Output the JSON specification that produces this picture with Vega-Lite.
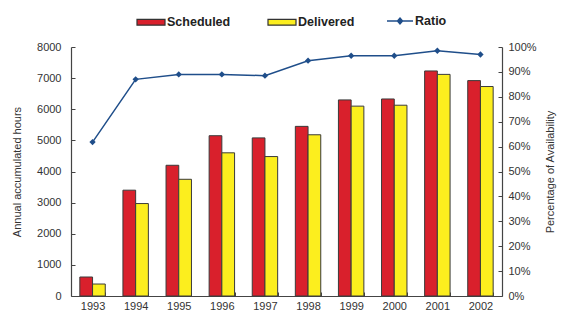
{
  "$schema": "https://vega.github.io/schema/vega-lite/v6.json",
  "autosize": "none",
  "width": 431,
  "height": 249,
  "padding": {"left": 71, "top": 47, "right": 61, "bottom": 19},
  "background": "white",
  "config": {
    "font": "Liberation Sans",
    "view": {"stroke": null},
    "axis": {"labelFont": "Liberation Sans", "titleFont": "Liberation Sans", "labelFontSize": 11, "titleFontSize": 11, "titleFontWeight": "normal", "labelColor": "#333", "titleColor": "#333", "domainColor": "#444", "tickColor": "#444", "grid": false},
    "legend": {"labelFont": "Liberation Sans", "labelFontWeight": "bold", "labelFontSize": 12.5, "labelColor": "#222", "symbolSize": 784, "labelOffset": 1, "columnPadding": 34}
  },
  "datasets": {
    "bars": [
      {"year": "1993", "series": "Scheduled", "hours": 610},
      {"year": "1993", "series": "Delivered", "hours": 385},
      {"year": "1994", "series": "Scheduled", "hours": 3400},
      {"year": "1994", "series": "Delivered", "hours": 2970},
      {"year": "1995", "series": "Scheduled", "hours": 4200},
      {"year": "1995", "series": "Delivered", "hours": 3750},
      {"year": "1996", "series": "Scheduled", "hours": 5150},
      {"year": "1996", "series": "Delivered", "hours": 4600},
      {"year": "1997", "series": "Scheduled", "hours": 5080},
      {"year": "1997", "series": "Delivered", "hours": 4480},
      {"year": "1998", "series": "Scheduled", "hours": 5450},
      {"year": "1998", "series": "Delivered", "hours": 5180},
      {"year": "1999", "series": "Scheduled", "hours": 6300},
      {"year": "1999", "series": "Delivered", "hours": 6100},
      {"year": "2000", "series": "Scheduled", "hours": 6330},
      {"year": "2000", "series": "Delivered", "hours": 6130},
      {"year": "2001", "series": "Scheduled", "hours": 7230},
      {"year": "2001", "series": "Delivered", "hours": 7120},
      {"year": "2002", "series": "Scheduled", "hours": 6920},
      {"year": "2002", "series": "Delivered", "hours": 6730}
    ],
    "ratio": [
      {"year": "1993", "ratio": 0.618},
      {"year": "1994", "ratio": 0.87},
      {"year": "1995", "ratio": 0.89},
      {"year": "1996", "ratio": 0.89},
      {"year": "1997", "ratio": 0.885},
      {"year": "1998", "ratio": 0.945},
      {"year": "1999", "ratio": 0.965},
      {"year": "2000", "ratio": 0.965},
      {"year": "2001", "ratio": 0.985},
      {"year": "2002", "ratio": 0.97}
    ]
  },
  "layer": [
    {
      "data": {"name": "bars"},
      "mark": {"type": "bar", "stroke": "#3a3a3a", "strokeWidth": 1},
      "encoding": {
        "x": {"field": "year", "type": "ordinal", "scale": {"paddingInner": 0.41, "paddingOuter": 0.205},
              "axis": {"title": null, "labelAngle": 0, "tickBand": "extent", "tickSize": -4, "labelPadding": 8, "domainWidth": 1.2}},
        "xOffset": {"field": "series", "type": "nominal", "sort": ["Scheduled", "Delivered"]},
        "y": {"field": "hours", "type": "quantitative", "scale": {"domain": [0, 8000]},
              "axis": {"title": "Annual accumulated hours", "format": "d", "values": [0,1000,2000,3000,4000,5000,6000,7000,8000], "tickSize": -4, "labelPadding": 14, "titlePadding": 14, "domainWidth": 1.2}},
        "color": {"field": "series", "type": "nominal",
                  "scale": {"domain": ["Scheduled", "Delivered"], "range": ["#d9202c", "#fcee1e"]},
                  "legend": {
                    "title": null, "orient": "none", "direction": "horizontal", "legendX": 65, "legendY": -40,
                    "symbolType": "M-1,-0.21H1V0.21H-1Z", "symbolStrokeColor": "#333", "symbolStrokeWidth": 1.2
                  }}
      }
    },
    {
      "data": {"name": "ratio"},
      "mark": {"type": "line", "strokeWidth": 1.5},
      "encoding": {
        "x": {"field": "year", "type": "ordinal"},
        "y": {"field": "ratio", "type": "quantitative", "scale": {"domain": [0, 1]},
              "axis": {"orient": "right", "title": "Percentage of Availability", "format": ".0%", "values": [0,0.1,0.2,0.3,0.4,0.5,0.6,0.7,0.8,0.9,1], "tickSize": -4, "labelPadding": 10, "titlePadding": 19, "titleAngle": 270, "domainWidth": 1.2}},
        "stroke": {"datum": "Ratio", "scale": {"domain": ["Ratio"], "range": ["#1f4e8a"]},
                   "legend": {"title": null, "orient": "none", "legendX": 315, "legendY": -40, "symbolSize": 676,
                              "symbolType": "M-1,0H1M0,-0.23L0.2,0L0,0.23L-0.2,0Z", "symbolFillColor": "#1f4e8a", "symbolStrokeWidth": 1.3,
                              "encode": {"symbols": {"update": {"fill": {"value": "#1f4e8a"}}}}}}
      }
    },
    {
      "data": {"name": "ratio"},
      "mark": {"type": "point", "shape": "diamond", "size": 40, "filled": true, "color": "#1f4e8a", "opacity": 1},
      "encoding": {
        "x": {"field": "year", "type": "ordinal"},
        "y": {"field": "ratio", "type": "quantitative", "scale": {"domain": [0, 1]}, "axis": null}
      }
    }
  ],
  "resolve": {"scale": {"y": "independent"}}
}
